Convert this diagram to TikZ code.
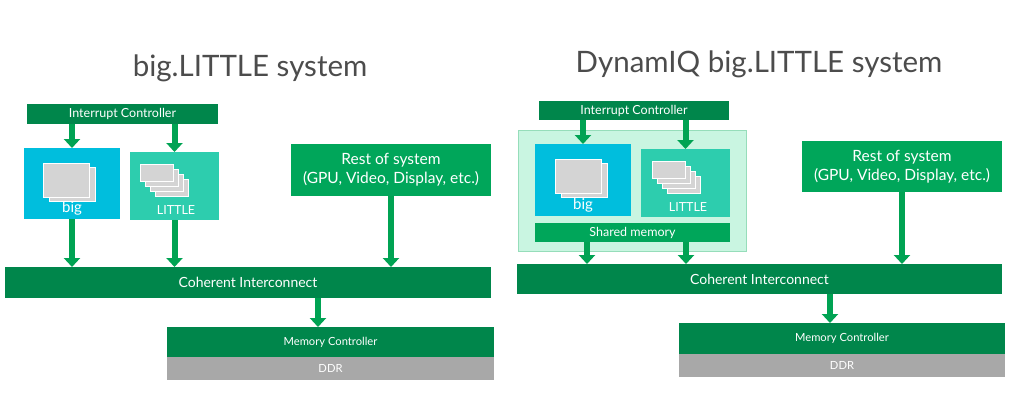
\documentclass[tikz,border=0pt]{standalone}
\usepackage{fontspec}
\setmainfont{Lato}
\usetikzlibrary{arrows.meta}
\definecolor{dg}{HTML}{00864B}
\definecolor{mg}{HTML}{00A65A}
\definecolor{ag}{HTML}{00A353}
\definecolor{cy}{HTML}{00BEDD}
\definecolor{tq}{HTML}{2DCDAE}
\definecolor{gr}{HTML}{A8A8A8}
\definecolor{core}{HTML}{D4D4D4}
\definecolor{mint}{HTML}{C9F5E1}
\definecolor{mintb}{HTML}{96DDBA}
\begin{document}
\begin{tikzpicture}[x=1pt,y=-1pt,
  blk/.style={anchor=north west,inner sep=0,outer sep=0,text=white,align=center},
  arr/.style={draw=ag,line width=6pt,-{Triangle[width=16pt,length=9pt]}},
  cr/.style={fill=core,draw=white,line width=1pt},
  fs/.style={font=\fontsize{12.5}{15}\selectfont},
  fr/.style={font=\fontsize{15.5}{19}\selectfont},
  fb/.style={font=\fontsize{15}{17}\selectfont},
  fc/.style={font=\fontsize{14}{16}\selectfont},
  fm/.style={font=\fontsize{11.2}{13}\selectfont},
  ttl/.style={text=black!70,font=\fontsize{29.5}{32}\selectfont}]
\useasboundingbox (0,0) rectangle (1019,416);
% ---------- left ----------
\node[ttl] (t1) at (250,68) {big.LITTLE system};
\node[blk,fill=dg,minimum width=191,minimum height=20,fs] (ic1) at (27,104) {Interrupt Controller};
\node[blk,fill=cy,minimum width=96,minimum height=71] (b1) at (24,148) {};
\node[blk,fill=tq,minimum width=89,minimum height=68] (l1) at (130,152) {};
\node[blk,fill=mg,minimum width=200,minimum height=52,fr] (r1) at (291,144) {Rest of system\\(GPU, Video, Display, etc.)};
\node[blk,fill=dg,minimum width=486,minimum height=31,fc] (ci1) at (5,267) {Coherent Interconnect};
\node[blk,fill=dg,minimum width=327,minimum height=30,fm] (mc1) at (167,327) {Memory Controller};
\node[blk,fill=gr,minimum width=327,minimum height=23,fm] (d1) at (167,357) {DDR};
\draw[cr] (49,167) rectangle (95,201);
\draw[cr] (43,163) rectangle (89,197);
\node[text=white,fb] (bt1) at (72,208) {big};
\foreach \i in {3,2,1,0} \draw[cr] (140+5*\i,164+5*\i) rectangle (173+5*\i,181+5*\i);
\node[text=white,fs] (lt1) at (176,210) {LITTLE};
\draw[arr] (ic1.south -| b1.north) -- (b1.north);
\draw[arr] (ic1.south -| l1.north) -- (l1.north);
\draw[arr] (b1.south) -- (b1.south |- ci1.north);
\draw[arr] (l1.south) -- (l1.south |- ci1.north);
\draw[arr] (r1.south) -- (r1.south |- ci1.north);
\draw[arr] (ci1.south -| 318,0) -- (318,327);
% ---------- right ----------
\node[ttl] (t2) at (759,64) {DynamIQ big.LITTLE system};
\node[blk,fill=mint,draw=mintb,line width=1pt,minimum width=228,minimum height=121] (cl) at (518,130) {};
\node[blk,fill=dg,minimum width=190,minimum height=19,fs] (ic2) at (539,101) {Interrupt Controller};
\node[blk,fill=cy,minimum width=96,minimum height=72] (b2) at (535,144) {};
\node[blk,fill=tq,minimum width=89,minimum height=68] (l2) at (641,149) {};
\node[blk,fill=mg,minimum width=195,minimum height=19,fs] (sm) at (535,223) {Shared memory};
\node[blk,fill=mg,minimum width=200,minimum height=51,fr] (r2) at (802,141) {Rest of system\\(GPU, Video, Display, etc.)};
\node[blk,fill=dg,minimum width=485,minimum height=30,fc] (ci2) at (517,264) {Coherent Interconnect};
\node[blk,fill=dg,minimum width=326,minimum height=31,fm] (mc2) at (679,323) {Memory Controller};
\node[blk,fill=gr,minimum width=326,minimum height=23,fm] (d2) at (679,354) {DDR};
\draw[cr] (561,163) rectangle (607,197);
\draw[cr] (555,159) rectangle (601,193);
\node[text=white,fb] (bt2) at (583,205) {big};
\foreach \i in {3,2,1,0} \draw[cr] (652+5*\i,161+5*\i) rectangle (685+5*\i,178+5*\i);
\node[text=white,fs] (lt2) at (688,207) {LITTLE};
\draw[arr] (ic2.south -| b2.north) -- (b2.north);
\draw[arr] (ic2.south -| l2.north) -- (l2.north);
\draw[arr] (sm.south -| 587,0) -- (587,264);
\draw[arr] (sm.south -| 686,0) -- (686,264);
\draw[arr] (r2.south) -- (r2.south |- ci2.north);
\draw[arr] (ci2.south -| 830,0) -- (830,323);
\end{tikzpicture}
\end{document}
